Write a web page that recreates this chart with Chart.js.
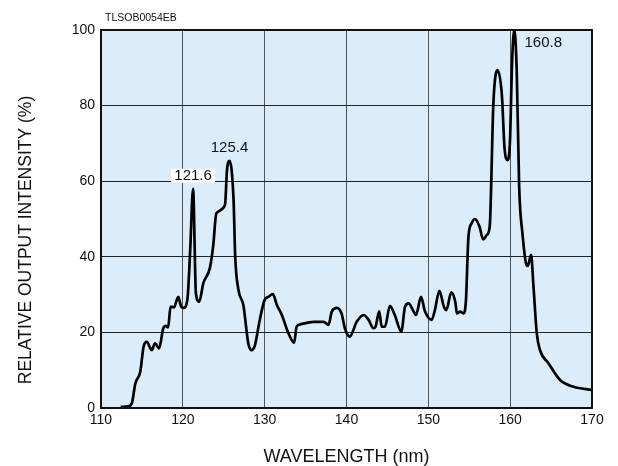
<!DOCTYPE html>
<html>
<head>
<meta charset="utf-8">
<script src="https://cdn.jsdelivr.net/npm/chart.js@4"></script>
<style>
  html, body { margin: 0; padding: 0; background: #fff; }
  canvas { display: block; }
</style>
</head>
<body>
<canvas id="chart" width="618" height="466"></canvas>
<script>
// wavelength (nm) and relative output intensity (%)
const wavelength = [
  112.4, 113.4, 113.8, 114.2, 114.8, 115.2, 115.6, 116.2, 116.6, 117.1,
  117.6, 117.9, 118.2, 118.5, 118.9, 119.45, 119.8, 120.1, 120.55, 120.9,
  121.25, 121.6, 122.0, 122.5, 123.3, 123.7, 124.1, 125.15, 125.4, 125.7,
  126.2, 126.4, 126.8, 127.4, 128.0, 128.4, 128.8, 129.4, 130.0, 130.45,
  131.0, 131.5, 132.1, 132.9, 133.6, 133.9, 134.3, 136.0, 137.2, 137.8,
  138.2, 138.8, 139.4, 139.8, 140.4, 141.25, 142.1, 142.7, 143.3, 143.55,
  144.0, 144.3, 144.7, 145.3, 145.9, 146.7, 147.15, 147.6, 148.2, 148.5,
  149.1, 149.6, 150.4, 150.8, 151.35, 151.9, 152.2, 152.8, 153.3, 153.5,
  153.9, 154.3, 154.6, 154.9, 155.3, 155.7, 156.25, 156.7, 157.15, 157.5,
  157.95, 158.45, 159.0, 159.3, 159.7, 160.0, 160.2, 160.5, 160.8, 161.1,
  161.5, 162.0, 162.15, 162.55, 162.85, 163.25, 163.65, 164.7, 166.1, 167.75,
  170
];
const intensity = [
  0.3, 0.5, 1.5, 6.5, 9.6, 16.2, 17.5, 15.3, 17.1, 15.8,
  21, 21.7, 21.3, 26.8, 26.6, 29.4, 26.8, 26.5, 28.6, 41.8,
  58, 30.3, 28.1, 33, 37, 42.7, 51.5, 53.7, 63, 65.4,
  55, 40, 31.2, 27.2, 17.1, 15.3, 16.5, 23.3, 28.6, 29.4,
  30.1, 27.2, 24.6, 19.8, 17.3, 21.5, 22.1, 22.8, 22.8, 22.0,
  25.5, 26.5, 25, 21.1, 18.9, 22.8, 24.6, 23.3, 21.1, 21.5,
  25.6, 21.5, 21.5, 27, 24.6, 20.2, 26.8, 27.7, 25.5, 24.6,
  29.4, 25.5, 23.3, 25.9, 31.0, 26.8, 25.9, 30.6, 28, 25,
  25.5, 25, 28.6, 45.3, 48.9, 50, 48, 44.6, 45.8, 48,
  80.6, 89.4, 82.4, 69.1, 65.6, 71.8, 89.4, 100, 89.4, 58.5,
  46.2, 37.8, 37.6, 40.5, 32.1, 19.8, 15.3, 11.8, 7.4, 5.6,
  4.8
];

const xTicks = [110, 120, 130, 140, 150, 160, 170];
const yTicks = [0, 20, 40, 60, 80, 100];

// peak labels
const peakLabels = ["121.6", "125.4", "160.8"];
const peakX = [121.25, 125.7, 160.5];
const peakY = [58, 65.4, 100];

const FONT = "'Liberation Sans', Arial, Helvetica, sans-serif";

const decor = {
  id: "decor",
  beforeDraw(chart) {
    const { ctx, chartArea: a } = chart;
    ctx.save();
    ctx.fillStyle = "#dbedfb";
    ctx.fillRect(a.left, a.top, a.right - a.left, a.bottom - a.top);
    ctx.restore();
  },
  afterDraw(chart) {
    const { ctx, chartArea: a, scales } = chart;
    ctx.save();
    // frame
    ctx.strokeStyle = "#111";
    ctx.lineWidth = 2;
    ctx.strokeRect(a.left, a.top, a.right - a.left, a.bottom - a.top);

    // peak labels
    ctx.font = "15px " + FONT;
    ctx.textAlign = "center";
    ctx.textBaseline = "middle";
    const offs = [[0, -13], [0, -13], [29, 13]];
    peakLabels.forEach((t, i) => {
      const px = scales.x.getPixelForValue(peakX[i]) + offs[i][0];
      const py = scales.y.getPixelForValue(peakY[i]) + offs[i][1];
      if (i === 0) {
        ctx.fillStyle = "#fff";
        ctx.fillRect(px - 22, py - 7, 44, 14);
      }
      ctx.fillStyle = "#111";
      ctx.fillText(t, px, py);
    });

    // y axis title
    ctx.font = "17.5px " + FONT;
    ctx.fillStyle = "#111";
    ctx.translate(26, 240);
    ctx.rotate(-Math.PI / 2);
    ctx.fillText("RELATIVE OUTPUT INTENSITY (%)", 0, 0);
    ctx.restore();

    // figure code
    ctx.save();
    ctx.font = "10.5px " + FONT;
    ctx.fillStyle = "#111";
    ctx.textAlign = "left";
    ctx.textBaseline = "alphabetic";
    ctx.fillText("TLSOB0054EB", 105, 21);
    ctx.restore();
  }
};

const ctx = document.getElementById("chart").getContext("2d");

const myChart = new Chart(ctx, {
  type: "line",
  data: {
    datasets: [
      {
        data: wavelength.map((w, i) => ({ x: w, y: intensity[i] })),
        borderColor: "#000",
        borderWidth: 2.7,
        pointRadius: 0,
        fill: false,
        cubicInterpolationMode: "monotone",
      },
    ],
  },
  options: {
    responsive: false,
    animation: false,
    layout: { padding: { left: 0, right: 26, top: 30, bottom: 0 } },
    plugins: { legend: { display: false }, tooltip: { enabled: false } },
    scales: {
      x: {
        type: "linear",
        min: xTicks[0],
        max: xTicks[xTicks.length - 1],
        afterBuildTicks: (s) => { s.ticks = xTicks.map((v) => ({ value: v })); },
        afterFit: (s) => { s.height = 58; },
        ticks: { color: "#111", font: { size: 14, family: FONT }, padding: 4, maxRotation: 0 },
        grid: { color: "#555", lineWidth: 1, drawTicks: false },
        border: { display: false },
        title: {
          display: true,
          text: "WAVELENGTH (nm)",
          color: "#111",
          font: { size: 18, family: FONT, lineHeight: 1 },
          padding: { top: 0, bottom: 0 },
        },
      },
      y: {
        min: yTicks[0],
        max: yTicks[yTicks.length - 1],
        afterBuildTicks: (s) => { s.ticks = yTicks.map((v) => ({ value: v })); },
        afterFit: (s) => { s.width = 101; },
        ticks: { color: "#111", font: { size: 14, family: FONT }, padding: 6 },
        grid: { color: "#222", lineWidth: 1, drawTicks: false },
        border: { display: false },
      },
    },
  },
  plugins: [decor],
});
</script>
</body>
</html>
